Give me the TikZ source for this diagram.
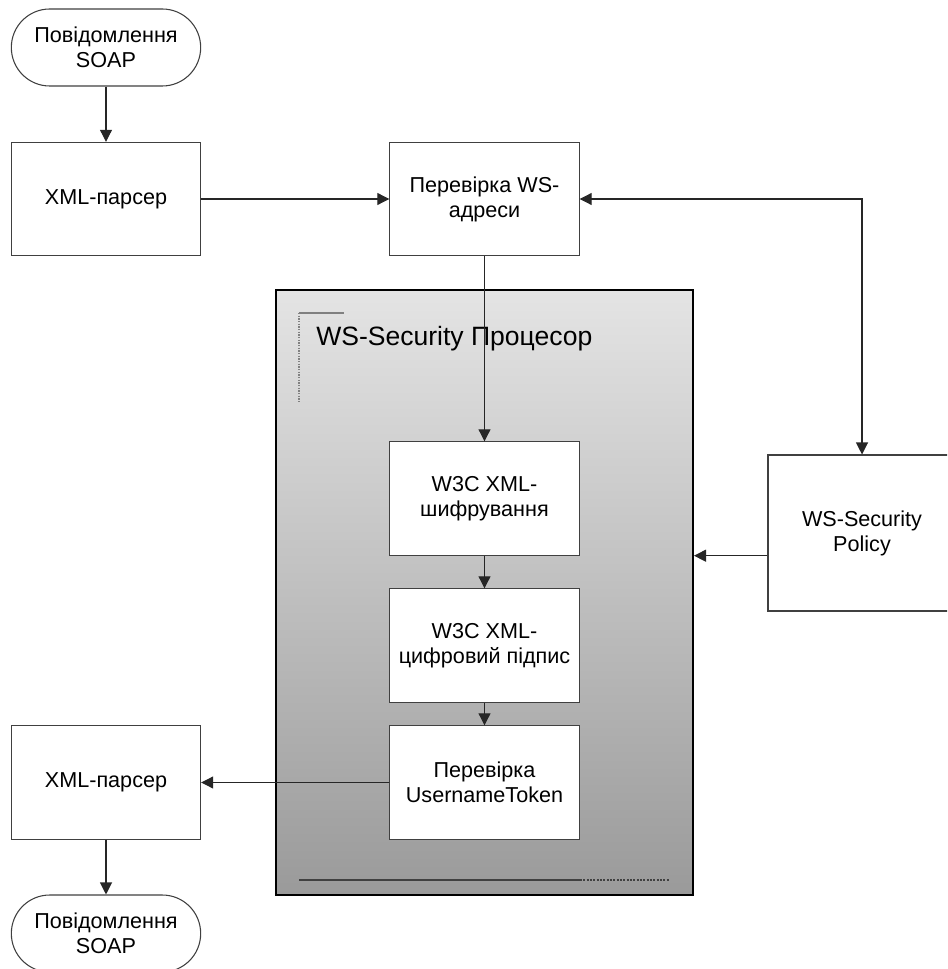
\documentclass[tikz,border=0pt]{standalone}
\usepackage{fontspec}
\setmainfont{Liberation Sans}
\usetikzlibrary{arrows.meta}
\definecolor{proctop}{HTML}{E4E4E4}
\definecolor{procbot}{HTML}{9A9A9A}
\definecolor{edge}{HTML}{404040}
\begin{document}
\begin{tikzpicture}[x=0.75pt,y=-0.75pt,
  box/.style={draw=edge,line width=0.8pt,fill=white,minimum width=142pt,minimum height=85pt,
    inner sep=0pt,align=center,font=\fontsize{16.2}{18.8}\selectfont},
  term/.style={box,minimum height=57.75pt,rounded corners=28.8pt},
  arr/.style={draw=black!85,line width=0.8pt,-{Triangle[length=9pt,width=9pt]}},
  arrboth/.style={arr,{Triangle[length=9pt,width=9pt]}-{Triangle[length=9pt,width=9pt]}}]
\clip (0,0) rectangle (947,969);
\node[draw=black,line width=1.5pt,top color=proctop,bottom color=procbot,minimum width=312.75pt,minimum height=453.75pt,inner sep=0pt] (proc) at (484.5,592.5) {};
\draw[gray,line width=0.8pt] (299,313) -- (344,313);
\draw[gray,line width=0.8pt,dash pattern=on 1pt off 1pt] (299,313) -- (299,403);
\draw[edge,line width=0.8pt] (299,880) -- (580,880);
\draw[edge,line width=0.8pt,dash pattern=on 1.5pt off 1pt] (580,880) -- (670,880);
\node[anchor=base west,inner sep=0pt,font=\fontsize{19.9}{23}\selectfont] (title) at (316,345) {WS-Security Процесор};
\node[term] (soap1) at (106,47.5) {Повідомлення\\SOAP};
\node[box] (pars1) at (106,199) {XML-парсер};
\node[box] (addr) at (484.5,199) {Перевірка WS-\\адреси};
\node[box] (enc) at (484.5,498.5) {W3C XML-\\шифрування};
\node[box] (sig) at (484.5,645.5) {W3C XML-\\цифровий підпис};
\node[box] (tok) at (484.5,782.5) {Перевірка\\UsernameToken};
\node[box] (pars2) at (106,782.5) {XML-парсер};
\node[term] (soap2) at (106,933.5) {Повідомлення\\SOAP};
\node[box,minimum width=141pt,minimum height=117pt] (policy) at (862,533) {WS-Security\\Policy};
\draw[arr] (soap1) -- (pars1);
\draw[arr] (pars1) -- (addr);
\draw[arr] (addr) -- (enc);
\draw[arr] (enc) -- (sig);
\draw[arr] (sig) -- (tok);
\draw[arr] (tok) -- (pars2);
\draw[arr] (pars2) -- (soap2);
\draw[arrboth] (addr.east) -| (policy.north);
\draw[arr] (policy.west |- enc.south) -- (proc.east |- enc.south);
\end{tikzpicture}
\end{document}
